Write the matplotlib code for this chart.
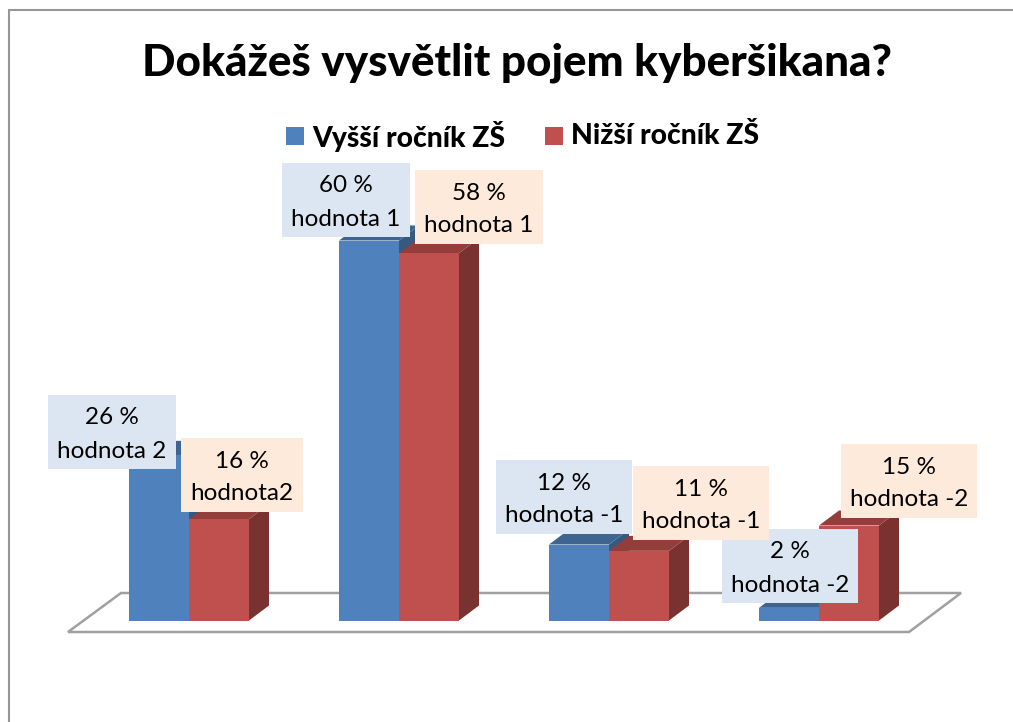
import matplotlib
matplotlib.use("Agg")
import matplotlib.pyplot as plt
from matplotlib.patches import Polygon, Rectangle
from matplotlib.lines import Line2D

plt.rcParams['font.family'] = ['Lato', 'DejaVu Sans']

title = "Dokážeš vysvětlit pojem kyberšikana?"
series_names = ["Vyšší ročník ZŠ", "Nižší ročník ZŠ"]
upper_values = [26, 60, 12, 2]
lower_values = [16, 58, 11, 15]
upper_labels = ["26 %\nhodnota 2", "60 %\nhodnota 1", "12 %\nhodnota -1", "2 %\nhodnota -2"]
lower_labels = ["16 %\nhodnota2", "58 %\nhodnota 1", "11 %\nhodnota -1", "15 %\nhodnota -2"]
upper_boxes = [(48, 395, 176, 469), (282, 163, 410, 237), (496, 460, 632, 534), (722, 529, 858, 603)]
lower_boxes = [(181, 438, 303, 512), (415, 170, 543, 244), (633, 466, 769, 540), (841, 444, 977, 518)]

W, H = 1013, 722
fig = plt.figure(figsize=(W / 100, H / 100), dpi=100)
ax = fig.add_axes([0, 0, 1, 1])

PX_X = 210.0          # pixels per category
PX_Y = 380 / 60       # pixels per percent
X0, Y0 = 189.0, 620.5 # pixel of first category centre, and zero line
ax.set_xlim(-X0 / PX_X, (W - X0) / PX_X)
ax.set_ylim(-(H - Y0) / PX_Y, Y0 / PX_Y)
ax.axis("off")

bw = 60 / PX_X
dx = 20 / PX_X
dy = 15 / PX_Y


def px(x, y):
    """Pixel position -> data position, for decoration only."""
    return (x - X0) / PX_X, (Y0 - y) / PX_Y


# frame of the chart area
for a, b in [((9, 723), (9, 10)), ((8, 10), (1014, 10))]:
    pa, pb = px(*a), px(*b)
    ax.add_line(Line2D([pa[0], pb[0]], [pa[1], pb[1]], color="#969696", lw=1.5, zorder=1,
                       solid_capstyle="butt"))

# floor
ax.add_patch(Polygon([px(68, 632), px(121, 593), px(961, 593), px(909, 632)], closed=True,
                     fc="white", ec="#a0a0a0", lw=1.8, zorder=2))


def bar3d(left, value, front, top, side, z):
    right = left + bw
    ax.add_patch(Polygon([(right, 0), (right + dx, dy), (right + dx, value + dy), (right, value)],
                         fc=side, ec="none", zorder=z))
    ax.add_patch(Polygon([(left, value), (left + dx, value + dy), (right + dx, value + dy), (right, value)],
                         fc=top, ec="none", zorder=z))
    ax.bar(left, value, width=bw, align="edge", color=front, zorder=z + 0.1)


for i, (u, l) in enumerate(zip(upper_values, lower_values)):
    bar3d(i - bw, u, "#4f81bd", "#3d6590", "#35597f", 3 + i)
    bar3d(i, l, "#c0504d", "#943e3b", "#7a3230", 3.5 + i)


def label(box, text, color, z):
    x0, y0, x1, y1 = box
    p0, p1 = px(x0, y1), px(x1, y0)
    ax.add_patch(Rectangle(p0, p1[0] - p0[0], p1[1] - p0[1], fc=color, ec="none", zorder=z))
    for line, yy in zip(text.split("\n"), (y0 + 23, y0 + 56)):
        ax.text(*px((x0 + x1) / 2, yy), line, ha="center", va="center",
                fontsize=17.5, color="black", zorder=z + 0.1)


for box, text in zip(upper_boxes, upper_labels):
    label(box, text, "#dce6f2", 10)
for box, text in zip(lower_boxes, lower_labels):
    label(box, text, "#fdeada", 11)

# title
ax.text(*px(517, 63), title, ha="center", va="center", fontsize=31.7, fontweight=900, color="black", zorder=20)

# legend
for name, color, sx, tx in zip(series_names, ["#4f81bd", "#c0504d"], [286, 545], [312, 571]):
    p0 = px(sx, 145)
    ax.add_patch(Rectangle(p0, 18 / PX_X, 18 / PX_Y, fc=color, ec="none", zorder=20))
    ax.text(*px(tx, 136), name, ha="left", va="center", fontsize=20.3, fontweight=900, color="black", zorder=20)

fig.savefig("out.png", dpi=100, facecolor="white")
